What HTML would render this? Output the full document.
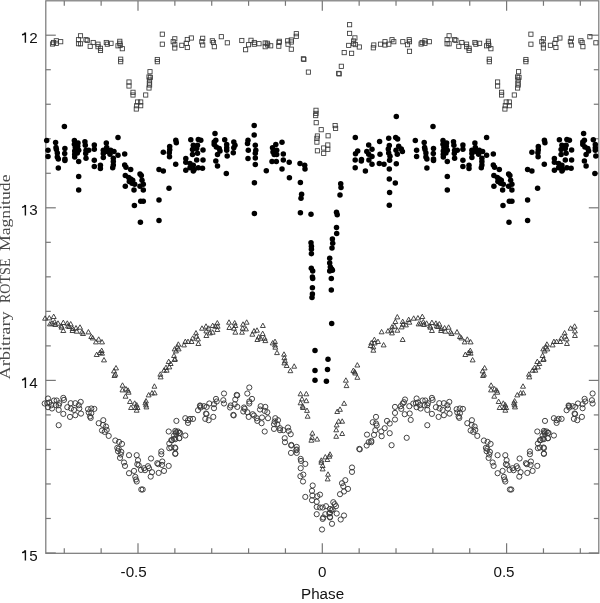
<!DOCTYPE html>
<html><head><meta charset="utf-8"><style>
html,body{margin:0;padding:0;background:#fff;}
svg{display:block;will-change:transform;}
.t{font-family:"Liberation Sans",sans-serif;font-size:15.2px;fill:#111;}
.yl{font-family:"Liberation Serif",serif;font-size:14.2px;fill:#4a4a4a;}
</style></head><body>
<svg width="600" height="603" viewBox="0 0 600 603">
<rect width="600" height="603" fill="#fff"/>
<rect x="45.8" y="0.8" width="553.00" height="552.50" fill="none" stroke="#777" stroke-width="1.2"/>
<line x1="64.28" y1="553.3" x2="64.28" y2="548.3" stroke="#777" stroke-width="1.2"/>
<line x1="64.28" y1="0.8" x2="64.28" y2="5.8" stroke="#777" stroke-width="1.2"/>
<line x1="101.14" y1="553.3" x2="101.14" y2="548.3" stroke="#777" stroke-width="1.2"/>
<line x1="101.14" y1="0.8" x2="101.14" y2="5.8" stroke="#777" stroke-width="1.2"/>
<line x1="138.00" y1="553.3" x2="138.00" y2="543.3" stroke="#777" stroke-width="1.2"/>
<line x1="138.00" y1="0.8" x2="138.00" y2="10.8" stroke="#777" stroke-width="1.2"/>
<line x1="174.86" y1="553.3" x2="174.86" y2="548.3" stroke="#777" stroke-width="1.2"/>
<line x1="174.86" y1="0.8" x2="174.86" y2="5.8" stroke="#777" stroke-width="1.2"/>
<line x1="211.72" y1="553.3" x2="211.72" y2="548.3" stroke="#777" stroke-width="1.2"/>
<line x1="211.72" y1="0.8" x2="211.72" y2="5.8" stroke="#777" stroke-width="1.2"/>
<line x1="248.58" y1="553.3" x2="248.58" y2="548.3" stroke="#777" stroke-width="1.2"/>
<line x1="248.58" y1="0.8" x2="248.58" y2="5.8" stroke="#777" stroke-width="1.2"/>
<line x1="285.44" y1="553.3" x2="285.44" y2="548.3" stroke="#777" stroke-width="1.2"/>
<line x1="285.44" y1="0.8" x2="285.44" y2="5.8" stroke="#777" stroke-width="1.2"/>
<line x1="322.30" y1="553.3" x2="322.30" y2="543.3" stroke="#777" stroke-width="1.2"/>
<line x1="322.30" y1="0.8" x2="322.30" y2="10.8" stroke="#777" stroke-width="1.2"/>
<line x1="359.16" y1="553.3" x2="359.16" y2="548.3" stroke="#777" stroke-width="1.2"/>
<line x1="359.16" y1="0.8" x2="359.16" y2="5.8" stroke="#777" stroke-width="1.2"/>
<line x1="396.02" y1="553.3" x2="396.02" y2="548.3" stroke="#777" stroke-width="1.2"/>
<line x1="396.02" y1="0.8" x2="396.02" y2="5.8" stroke="#777" stroke-width="1.2"/>
<line x1="432.88" y1="553.3" x2="432.88" y2="548.3" stroke="#777" stroke-width="1.2"/>
<line x1="432.88" y1="0.8" x2="432.88" y2="5.8" stroke="#777" stroke-width="1.2"/>
<line x1="469.74" y1="553.3" x2="469.74" y2="548.3" stroke="#777" stroke-width="1.2"/>
<line x1="469.74" y1="0.8" x2="469.74" y2="5.8" stroke="#777" stroke-width="1.2"/>
<line x1="506.60" y1="553.3" x2="506.60" y2="543.3" stroke="#777" stroke-width="1.2"/>
<line x1="506.60" y1="0.8" x2="506.60" y2="10.8" stroke="#777" stroke-width="1.2"/>
<line x1="543.46" y1="553.3" x2="543.46" y2="548.3" stroke="#777" stroke-width="1.2"/>
<line x1="543.46" y1="0.8" x2="543.46" y2="5.8" stroke="#777" stroke-width="1.2"/>
<line x1="580.32" y1="553.3" x2="580.32" y2="548.3" stroke="#777" stroke-width="1.2"/>
<line x1="580.32" y1="0.8" x2="580.32" y2="5.8" stroke="#777" stroke-width="1.2"/>
<line x1="45.8" y1="35.20" x2="55.8" y2="35.20" stroke="#777" stroke-width="1.2"/>
<line x1="598.8" y1="35.20" x2="588.8" y2="35.20" stroke="#777" stroke-width="1.2"/>
<line x1="45.8" y1="69.72" x2="50.8" y2="69.72" stroke="#777" stroke-width="1.2"/>
<line x1="598.8" y1="69.72" x2="593.8" y2="69.72" stroke="#777" stroke-width="1.2"/>
<line x1="45.8" y1="104.24" x2="50.8" y2="104.24" stroke="#777" stroke-width="1.2"/>
<line x1="598.8" y1="104.24" x2="593.8" y2="104.24" stroke="#777" stroke-width="1.2"/>
<line x1="45.8" y1="138.76" x2="50.8" y2="138.76" stroke="#777" stroke-width="1.2"/>
<line x1="598.8" y1="138.76" x2="593.8" y2="138.76" stroke="#777" stroke-width="1.2"/>
<line x1="45.8" y1="173.28" x2="50.8" y2="173.28" stroke="#777" stroke-width="1.2"/>
<line x1="598.8" y1="173.28" x2="593.8" y2="173.28" stroke="#777" stroke-width="1.2"/>
<line x1="45.8" y1="207.80" x2="55.8" y2="207.80" stroke="#777" stroke-width="1.2"/>
<line x1="598.8" y1="207.80" x2="588.8" y2="207.80" stroke="#777" stroke-width="1.2"/>
<line x1="45.8" y1="242.32" x2="50.8" y2="242.32" stroke="#777" stroke-width="1.2"/>
<line x1="598.8" y1="242.32" x2="593.8" y2="242.32" stroke="#777" stroke-width="1.2"/>
<line x1="45.8" y1="276.84" x2="50.8" y2="276.84" stroke="#777" stroke-width="1.2"/>
<line x1="598.8" y1="276.84" x2="593.8" y2="276.84" stroke="#777" stroke-width="1.2"/>
<line x1="45.8" y1="311.36" x2="50.8" y2="311.36" stroke="#777" stroke-width="1.2"/>
<line x1="598.8" y1="311.36" x2="593.8" y2="311.36" stroke="#777" stroke-width="1.2"/>
<line x1="45.8" y1="345.88" x2="50.8" y2="345.88" stroke="#777" stroke-width="1.2"/>
<line x1="598.8" y1="345.88" x2="593.8" y2="345.88" stroke="#777" stroke-width="1.2"/>
<line x1="45.8" y1="380.40" x2="55.8" y2="380.40" stroke="#777" stroke-width="1.2"/>
<line x1="598.8" y1="380.40" x2="588.8" y2="380.40" stroke="#777" stroke-width="1.2"/>
<line x1="45.8" y1="414.92" x2="50.8" y2="414.92" stroke="#777" stroke-width="1.2"/>
<line x1="598.8" y1="414.92" x2="593.8" y2="414.92" stroke="#777" stroke-width="1.2"/>
<line x1="45.8" y1="449.44" x2="50.8" y2="449.44" stroke="#777" stroke-width="1.2"/>
<line x1="598.8" y1="449.44" x2="593.8" y2="449.44" stroke="#777" stroke-width="1.2"/>
<line x1="45.8" y1="483.96" x2="50.8" y2="483.96" stroke="#777" stroke-width="1.2"/>
<line x1="598.8" y1="483.96" x2="593.8" y2="483.96" stroke="#777" stroke-width="1.2"/>
<line x1="45.8" y1="518.48" x2="50.8" y2="518.48" stroke="#777" stroke-width="1.2"/>
<line x1="598.8" y1="518.48" x2="593.8" y2="518.48" stroke="#777" stroke-width="1.2"/>
<line x1="45.8" y1="553.00" x2="55.8" y2="553.00" stroke="#777" stroke-width="1.2"/>
<line x1="598.8" y1="553.00" x2="588.8" y2="553.00" stroke="#777" stroke-width="1.2"/>
<g fill="none" stroke="#3a3a3a" stroke-width="0.85">
<rect x="51.4" y="40.4" width="4.2" height="4.2"/>
<rect x="420.0" y="40.4" width="4.2" height="4.2"/>
<rect x="54.2" y="38.7" width="4.2" height="4.2"/>
<rect x="422.8" y="38.7" width="4.2" height="4.2"/>
<rect x="54.2" y="41.2" width="4.2" height="4.2"/>
<rect x="422.8" y="41.2" width="4.2" height="4.2"/>
<rect x="58.6" y="39.6" width="4.2" height="4.2"/>
<rect x="427.2" y="39.6" width="4.2" height="4.2"/>
<rect x="50.4" y="41.9" width="4.2" height="4.2"/>
<rect x="419.0" y="41.9" width="4.2" height="4.2"/>
<rect x="78.4" y="33.7" width="4.2" height="4.2"/>
<rect x="447.0" y="33.7" width="4.2" height="4.2"/>
<rect x="76.4" y="37.6" width="4.2" height="4.2"/>
<rect x="445.0" y="37.6" width="4.2" height="4.2"/>
<rect x="76.4" y="41.6" width="4.2" height="4.2"/>
<rect x="445.0" y="41.6" width="4.2" height="4.2"/>
<rect x="78.4" y="41.7" width="4.2" height="4.2"/>
<rect x="447.0" y="41.7" width="4.2" height="4.2"/>
<rect x="83.9" y="37.6" width="4.2" height="4.2"/>
<rect x="452.5" y="37.6" width="4.2" height="4.2"/>
<rect x="85.2" y="38.2" width="4.2" height="4.2"/>
<rect x="453.8" y="38.2" width="4.2" height="4.2"/>
<rect x="88.1" y="44.2" width="4.2" height="4.2"/>
<rect x="456.7" y="44.2" width="4.2" height="4.2"/>
<rect x="91.1" y="40.4" width="4.2" height="4.2"/>
<rect x="459.7" y="40.4" width="4.2" height="4.2"/>
<rect x="95.9" y="42.1" width="4.2" height="4.2"/>
<rect x="464.5" y="42.1" width="4.2" height="4.2"/>
<rect x="95.9" y="44.6" width="4.2" height="4.2"/>
<rect x="464.5" y="44.6" width="4.2" height="4.2"/>
<rect x="98.4" y="46.2" width="4.2" height="4.2"/>
<rect x="467.0" y="46.2" width="4.2" height="4.2"/>
<rect x="98.4" y="48.4" width="4.2" height="4.2"/>
<rect x="467.0" y="48.4" width="4.2" height="4.2"/>
<rect x="104.2" y="40.4" width="4.2" height="4.2"/>
<rect x="472.8" y="40.4" width="4.2" height="4.2"/>
<rect x="105.2" y="42.1" width="4.2" height="4.2"/>
<rect x="473.8" y="42.1" width="4.2" height="4.2"/>
<rect x="108.9" y="41.2" width="4.2" height="4.2"/>
<rect x="477.5" y="41.2" width="4.2" height="4.2"/>
<rect x="117.7" y="39.2" width="4.2" height="4.2"/>
<rect x="486.3" y="39.2" width="4.2" height="4.2"/>
<rect x="117.7" y="41.2" width="4.2" height="4.2"/>
<rect x="486.3" y="41.2" width="4.2" height="4.2"/>
<rect x="115.9" y="43.7" width="4.2" height="4.2"/>
<rect x="484.5" y="43.7" width="4.2" height="4.2"/>
<rect x="118.1" y="43.2" width="4.2" height="4.2"/>
<rect x="486.7" y="43.2" width="4.2" height="4.2"/>
<rect x="120.2" y="46.6" width="4.2" height="4.2"/>
<rect x="488.8" y="46.6" width="4.2" height="4.2"/>
<rect x="118.6" y="57.1" width="4.2" height="4.2"/>
<rect x="487.2" y="57.1" width="4.2" height="4.2"/>
<rect x="118.6" y="59.6" width="4.2" height="4.2"/>
<rect x="487.2" y="59.6" width="4.2" height="4.2"/>
<rect x="147.9" y="69.6" width="4.2" height="4.2"/>
<rect x="516.5" y="69.6" width="4.2" height="4.2"/>
<rect x="146.9" y="74.9" width="4.2" height="4.2"/>
<rect x="515.5" y="74.9" width="4.2" height="4.2"/>
<rect x="148.3" y="75.3" width="4.2" height="4.2"/>
<rect x="516.9" y="75.3" width="4.2" height="4.2"/>
<rect x="147.5" y="77.9" width="4.2" height="4.2"/>
<rect x="516.1" y="77.9" width="4.2" height="4.2"/>
<rect x="147.2" y="80.9" width="4.2" height="4.2"/>
<rect x="515.8" y="80.9" width="4.2" height="4.2"/>
<rect x="147.5" y="82.9" width="4.2" height="4.2"/>
<rect x="516.1" y="82.9" width="4.2" height="4.2"/>
<rect x="146.9" y="85.9" width="4.2" height="4.2"/>
<rect x="515.5" y="85.9" width="4.2" height="4.2"/>
<rect x="126.9" y="79.9" width="4.2" height="4.2"/>
<rect x="495.5" y="79.9" width="4.2" height="4.2"/>
<rect x="126.9" y="83.9" width="4.2" height="4.2"/>
<rect x="495.5" y="83.9" width="4.2" height="4.2"/>
<rect x="130.9" y="90.2" width="4.2" height="4.2"/>
<rect x="499.5" y="90.2" width="4.2" height="4.2"/>
<rect x="130.9" y="92.9" width="4.2" height="4.2"/>
<rect x="499.5" y="92.9" width="4.2" height="4.2"/>
<rect x="143.6" y="92.9" width="4.2" height="4.2"/>
<rect x="512.2" y="92.9" width="4.2" height="4.2"/>
<rect x="135.5" y="99.9" width="4.2" height="4.2"/>
<rect x="504.1" y="99.9" width="4.2" height="4.2"/>
<rect x="138.6" y="99.9" width="4.2" height="4.2"/>
<rect x="507.2" y="99.9" width="4.2" height="4.2"/>
<rect x="134.6" y="103.6" width="4.2" height="4.2"/>
<rect x="503.2" y="103.6" width="4.2" height="4.2"/>
<rect x="138.6" y="103.6" width="4.2" height="4.2"/>
<rect x="507.2" y="103.6" width="4.2" height="4.2"/>
<rect x="134.2" y="106.9" width="4.2" height="4.2"/>
<rect x="502.8" y="106.9" width="4.2" height="4.2"/>
<rect x="160.2" y="32.1" width="4.2" height="4.2"/>
<rect x="528.8" y="32.1" width="4.2" height="4.2"/>
<rect x="160.2" y="42.1" width="4.2" height="4.2"/>
<rect x="528.8" y="42.1" width="4.2" height="4.2"/>
<rect x="155.2" y="57.4" width="4.2" height="4.2"/>
<rect x="523.8" y="57.4" width="4.2" height="4.2"/>
<rect x="155.2" y="59.6" width="4.2" height="4.2"/>
<rect x="523.8" y="59.6" width="4.2" height="4.2"/>
<rect x="171.1" y="39.6" width="4.2" height="4.2"/>
<rect x="539.7" y="39.6" width="4.2" height="4.2"/>
<rect x="172.7" y="36.7" width="4.2" height="4.2"/>
<rect x="541.3" y="36.7" width="4.2" height="4.2"/>
<rect x="172.7" y="42.6" width="4.2" height="4.2"/>
<rect x="541.3" y="42.6" width="4.2" height="4.2"/>
<rect x="172.7" y="45.9" width="4.2" height="4.2"/>
<rect x="541.3" y="45.9" width="4.2" height="4.2"/>
<rect x="179.7" y="43.2" width="4.2" height="4.2"/>
<rect x="548.3" y="43.2" width="4.2" height="4.2"/>
<rect x="185.2" y="37.4" width="4.2" height="4.2"/>
<rect x="553.8" y="37.4" width="4.2" height="4.2"/>
<rect x="184.2" y="41.2" width="4.2" height="4.2"/>
<rect x="552.8" y="41.2" width="4.2" height="4.2"/>
<rect x="185.2" y="45.4" width="4.2" height="4.2"/>
<rect x="553.8" y="45.4" width="4.2" height="4.2"/>
<rect x="189.2" y="35.9" width="4.2" height="4.2"/>
<rect x="557.8" y="35.9" width="4.2" height="4.2"/>
<rect x="200.6" y="36.2" width="4.2" height="4.2"/>
<rect x="569.2" y="36.2" width="4.2" height="4.2"/>
<rect x="199.7" y="39.6" width="4.2" height="4.2"/>
<rect x="568.3" y="39.6" width="4.2" height="4.2"/>
<rect x="200.6" y="42.9" width="4.2" height="4.2"/>
<rect x="569.2" y="42.9" width="4.2" height="4.2"/>
<rect x="210.2" y="38.7" width="4.2" height="4.2"/>
<rect x="578.8" y="38.7" width="4.2" height="4.2"/>
<rect x="211.4" y="40.4" width="4.2" height="4.2"/>
<rect x="580.0" y="40.4" width="4.2" height="4.2"/>
<rect x="212.2" y="44.6" width="4.2" height="4.2"/>
<rect x="580.8" y="44.6" width="4.2" height="4.2"/>
<rect x="219.2" y="34.6" width="4.2" height="4.2"/>
<rect x="587.8" y="34.6" width="4.2" height="4.2"/>
<rect x="225.2" y="40.7" width="4.2" height="4.2"/>
<rect x="593.8" y="40.7" width="4.2" height="4.2"/>
<rect x="239.7" y="38.4" width="4.2" height="4.2"/>
<rect x="243.5" y="47.6" width="4.2" height="4.2"/>
<rect x="246.4" y="42.6" width="4.2" height="4.2"/>
<rect x="248.9" y="38.2" width="4.2" height="4.2"/>
<rect x="252.2" y="40.4" width="4.2" height="4.2"/>
<rect x="252.2" y="42.1" width="4.2" height="4.2"/>
<rect x="256.9" y="41.6" width="4.2" height="4.2"/>
<rect x="263.1" y="40.9" width="4.2" height="4.2"/>
<rect x="263.1" y="44.6" width="4.2" height="4.2"/>
<rect x="265.2" y="41.2" width="4.2" height="4.2"/>
<rect x="265.6" y="42.9" width="4.2" height="4.2"/>
<rect x="268.6" y="43.7" width="4.2" height="4.2"/>
<rect x="277.2" y="39.2" width="4.2" height="4.2"/>
<rect x="276.9" y="40.4" width="4.2" height="4.2"/>
<rect x="276.7" y="44.1" width="4.2" height="4.2"/>
<rect x="285.6" y="38.7" width="4.2" height="4.2"/>
<rect x="285.9" y="42.1" width="4.2" height="4.2"/>
<rect x="289.2" y="37.9" width="4.2" height="4.2"/>
<rect x="289.2" y="39.9" width="4.2" height="4.2"/>
<rect x="289.2" y="47.1" width="4.2" height="4.2"/>
<rect x="294.2" y="31.6" width="4.2" height="4.2"/>
<rect x="294.2" y="34.2" width="4.2" height="4.2"/>
<rect x="301.3" y="56.7" width="4.2" height="4.2"/>
<rect x="306.3" y="70.0" width="4.2" height="4.2"/>
<rect x="336.6" y="71.3" width="4.2" height="4.2"/>
<rect x="339.2" y="64.2" width="4.2" height="4.2"/>
<rect x="342.1" y="50.5" width="4.2" height="4.2"/>
<rect x="349.5" y="51.2" width="4.2" height="4.2"/>
<rect x="347.5" y="22.6" width="4.2" height="4.2"/>
<rect x="347.5" y="31.3" width="4.2" height="4.2"/>
<rect x="352.8" y="35.8" width="4.2" height="4.2"/>
<rect x="351.5" y="38.9" width="4.2" height="4.2"/>
<rect x="351.5" y="41.6" width="4.2" height="4.2"/>
<rect x="353.2" y="42.5" width="4.2" height="4.2"/>
<rect x="346.6" y="43.3" width="4.2" height="4.2"/>
<rect x="357.2" y="44.9" width="4.2" height="4.2"/>
<rect x="313.9" y="108.2" width="4.2" height="4.2"/>
<rect x="313.9" y="111.3" width="4.2" height="4.2"/>
<rect x="313.6" y="113.5" width="4.2" height="4.2"/>
<rect x="314.1" y="120.6" width="4.2" height="4.2"/>
<rect x="319.1" y="127.6" width="4.2" height="4.2"/>
<rect x="333.0" y="123.5" width="4.2" height="4.2"/>
<rect x="333.5" y="126.3" width="4.2" height="4.2"/>
<rect x="326.0" y="133.7" width="4.2" height="4.2"/>
<rect x="315.3" y="133.9" width="4.2" height="4.2"/>
<rect x="314.8" y="136.2" width="4.2" height="4.2"/>
<rect x="314.8" y="140.0" width="4.2" height="4.2"/>
<rect x="325.7" y="142.9" width="4.2" height="4.2"/>
<rect x="321.6" y="145.9" width="4.2" height="4.2"/>
<rect x="325.7" y="147.2" width="4.2" height="4.2"/>
<rect x="315.3" y="148.7" width="4.2" height="4.2"/>
<rect x="321.6" y="151.3" width="4.2" height="4.2"/>
<rect x="371.7" y="42.9" width="4.2" height="4.2"/>
<rect x="371.2" y="45.7" width="4.2" height="4.2"/>
<rect x="378.4" y="42.1" width="4.2" height="4.2"/>
<rect x="382.9" y="39.6" width="4.2" height="4.2"/>
<rect x="382.9" y="42.9" width="4.2" height="4.2"/>
<rect x="386.7" y="42.1" width="4.2" height="4.2"/>
<rect x="389.9" y="37.6" width="4.2" height="4.2"/>
<rect x="391.7" y="39.6" width="4.2" height="4.2"/>
<rect x="400.7" y="39.6" width="4.2" height="4.2"/>
<rect x="407.1" y="37.6" width="4.2" height="4.2"/>
<rect x="407.4" y="39.6" width="4.2" height="4.2"/>
<rect x="405.4" y="42.6" width="4.2" height="4.2"/>
<rect x="407.4" y="49.2" width="4.2" height="4.2"/>
<rect x="301.8" y="57.3" width="4.2" height="4.2"/>
<rect x="337.1" y="71.8" width="4.2" height="4.2"/>
</g>
<g fill="#000">
<circle cx="64.4" cy="126.6" r="2.75"/>
<circle cx="433.0" cy="126.6" r="2.75"/>
<circle cx="46.7" cy="140.6" r="2.75"/>
<circle cx="415.3" cy="140.6" r="2.75"/>
<circle cx="48.0" cy="150.2" r="2.75"/>
<circle cx="416.6" cy="150.2" r="2.75"/>
<circle cx="48.0" cy="156.6" r="2.75"/>
<circle cx="416.6" cy="156.6" r="2.75"/>
<circle cx="55.6" cy="142.5" r="2.75"/>
<circle cx="424.2" cy="142.5" r="2.75"/>
<circle cx="56.0" cy="147.5" r="2.75"/>
<circle cx="424.6" cy="147.5" r="2.75"/>
<circle cx="56.4" cy="149.5" r="2.75"/>
<circle cx="425.0" cy="149.5" r="2.75"/>
<circle cx="57.3" cy="152.9" r="2.75"/>
<circle cx="425.9" cy="152.9" r="2.75"/>
<circle cx="57.3" cy="156.9" r="2.75"/>
<circle cx="425.9" cy="156.9" r="2.75"/>
<circle cx="58.3" cy="158.9" r="2.75"/>
<circle cx="426.9" cy="158.9" r="2.75"/>
<circle cx="58.3" cy="167.9" r="2.75"/>
<circle cx="426.9" cy="167.9" r="2.75"/>
<circle cx="64.9" cy="148.6" r="2.75"/>
<circle cx="433.5" cy="148.6" r="2.75"/>
<circle cx="64.7" cy="153.5" r="2.75"/>
<circle cx="433.3" cy="153.5" r="2.75"/>
<circle cx="64.9" cy="158.9" r="2.75"/>
<circle cx="433.5" cy="158.9" r="2.75"/>
<circle cx="64.9" cy="160.6" r="2.75"/>
<circle cx="433.5" cy="160.6" r="2.75"/>
<circle cx="74.4" cy="140.6" r="2.75"/>
<circle cx="443.0" cy="140.6" r="2.75"/>
<circle cx="74.4" cy="144.2" r="2.75"/>
<circle cx="443.0" cy="144.2" r="2.75"/>
<circle cx="75.3" cy="147.5" r="2.75"/>
<circle cx="443.9" cy="147.5" r="2.75"/>
<circle cx="74.7" cy="150.9" r="2.75"/>
<circle cx="443.3" cy="150.9" r="2.75"/>
<circle cx="74.7" cy="154.2" r="2.75"/>
<circle cx="443.3" cy="154.2" r="2.75"/>
<circle cx="74.7" cy="156.9" r="2.75"/>
<circle cx="443.3" cy="156.9" r="2.75"/>
<circle cx="78.0" cy="142.9" r="2.75"/>
<circle cx="446.6" cy="142.9" r="2.75"/>
<circle cx="77.7" cy="146.2" r="2.75"/>
<circle cx="446.3" cy="146.2" r="2.75"/>
<circle cx="78.7" cy="150.2" r="2.75"/>
<circle cx="447.3" cy="150.2" r="2.75"/>
<circle cx="77.3" cy="152.9" r="2.75"/>
<circle cx="445.9" cy="152.9" r="2.75"/>
<circle cx="78.7" cy="161.5" r="2.75"/>
<circle cx="447.3" cy="161.5" r="2.75"/>
<circle cx="78.7" cy="176.5" r="2.75"/>
<circle cx="447.3" cy="176.5" r="2.75"/>
<circle cx="78.7" cy="189.9" r="2.75"/>
<circle cx="447.3" cy="189.9" r="2.75"/>
<circle cx="84.9" cy="141.8" r="2.75"/>
<circle cx="453.5" cy="141.8" r="2.75"/>
<circle cx="85.3" cy="145.2" r="2.75"/>
<circle cx="453.9" cy="145.2" r="2.75"/>
<circle cx="86.0" cy="150.2" r="2.75"/>
<circle cx="454.6" cy="150.2" r="2.75"/>
<circle cx="88.7" cy="150.2" r="2.75"/>
<circle cx="457.3" cy="150.2" r="2.75"/>
<circle cx="85.7" cy="153.5" r="2.75"/>
<circle cx="454.3" cy="153.5" r="2.75"/>
<circle cx="86.0" cy="158.2" r="2.75"/>
<circle cx="454.6" cy="158.2" r="2.75"/>
<circle cx="94.3" cy="144.9" r="2.75"/>
<circle cx="462.9" cy="144.9" r="2.75"/>
<circle cx="94.3" cy="149.2" r="2.75"/>
<circle cx="462.9" cy="149.2" r="2.75"/>
<circle cx="94.3" cy="160.2" r="2.75"/>
<circle cx="462.9" cy="160.2" r="2.75"/>
<circle cx="94.3" cy="166.5" r="2.75"/>
<circle cx="462.9" cy="166.5" r="2.75"/>
<circle cx="100.4" cy="165.2" r="2.75"/>
<circle cx="469.0" cy="165.2" r="2.75"/>
<circle cx="100.4" cy="168.5" r="2.75"/>
<circle cx="469.0" cy="168.5" r="2.75"/>
<circle cx="106.3" cy="142.9" r="2.75"/>
<circle cx="474.9" cy="142.9" r="2.75"/>
<circle cx="103.3" cy="150.2" r="2.75"/>
<circle cx="471.9" cy="150.2" r="2.75"/>
<circle cx="103.3" cy="153.5" r="2.75"/>
<circle cx="471.9" cy="153.5" r="2.75"/>
<circle cx="103.3" cy="157.5" r="2.75"/>
<circle cx="471.9" cy="157.5" r="2.75"/>
<circle cx="106.7" cy="147.5" r="2.75"/>
<circle cx="475.3" cy="147.5" r="2.75"/>
<circle cx="107.3" cy="151.5" r="2.75"/>
<circle cx="475.9" cy="151.5" r="2.75"/>
<circle cx="110.7" cy="150.2" r="2.75"/>
<circle cx="479.3" cy="150.2" r="2.75"/>
<circle cx="110.0" cy="154.2" r="2.75"/>
<circle cx="478.6" cy="154.2" r="2.75"/>
<circle cx="114.0" cy="151.5" r="2.75"/>
<circle cx="482.6" cy="151.5" r="2.75"/>
<circle cx="113.3" cy="158.2" r="2.75"/>
<circle cx="481.9" cy="158.2" r="2.75"/>
<circle cx="113.3" cy="161.5" r="2.75"/>
<circle cx="481.9" cy="161.5" r="2.75"/>
<circle cx="113.3" cy="164.9" r="2.75"/>
<circle cx="481.9" cy="164.9" r="2.75"/>
<circle cx="112.7" cy="167.8" r="2.75"/>
<circle cx="481.3" cy="167.8" r="2.75"/>
<circle cx="118.0" cy="137.5" r="2.75"/>
<circle cx="486.6" cy="137.5" r="2.75"/>
<circle cx="118.0" cy="155.2" r="2.75"/>
<circle cx="486.6" cy="155.2" r="2.75"/>
<circle cx="124.7" cy="153.9" r="2.75"/>
<circle cx="493.3" cy="153.9" r="2.75"/>
<circle cx="124.7" cy="164.9" r="2.75"/>
<circle cx="493.3" cy="164.9" r="2.75"/>
<circle cx="125.3" cy="175.5" r="2.75"/>
<circle cx="493.9" cy="175.5" r="2.75"/>
<circle cx="125.3" cy="186.2" r="2.75"/>
<circle cx="493.9" cy="186.2" r="2.75"/>
<circle cx="126.0" cy="167.2" r="2.75"/>
<circle cx="494.6" cy="167.2" r="2.75"/>
<circle cx="130.7" cy="169.5" r="2.75"/>
<circle cx="499.3" cy="169.5" r="2.75"/>
<circle cx="128.7" cy="177.5" r="2.75"/>
<circle cx="497.3" cy="177.5" r="2.75"/>
<circle cx="130.7" cy="178.9" r="2.75"/>
<circle cx="499.3" cy="178.9" r="2.75"/>
<circle cx="129.3" cy="181.5" r="2.75"/>
<circle cx="497.9" cy="181.5" r="2.75"/>
<circle cx="132.7" cy="180.2" r="2.75"/>
<circle cx="501.3" cy="180.2" r="2.75"/>
<circle cx="132.0" cy="183.2" r="2.75"/>
<circle cx="500.6" cy="183.2" r="2.75"/>
<circle cx="134.7" cy="184.2" r="2.75"/>
<circle cx="503.3" cy="184.2" r="2.75"/>
<circle cx="134.0" cy="189.9" r="2.75"/>
<circle cx="502.6" cy="189.9" r="2.75"/>
<circle cx="140.0" cy="173.9" r="2.75"/>
<circle cx="508.6" cy="173.9" r="2.75"/>
<circle cx="141.3" cy="175.5" r="2.75"/>
<circle cx="509.9" cy="175.5" r="2.75"/>
<circle cx="142.0" cy="180.2" r="2.75"/>
<circle cx="510.6" cy="180.2" r="2.75"/>
<circle cx="143.3" cy="184.2" r="2.75"/>
<circle cx="511.9" cy="184.2" r="2.75"/>
<circle cx="140.0" cy="186.2" r="2.75"/>
<circle cx="508.6" cy="186.2" r="2.75"/>
<circle cx="143.3" cy="189.9" r="2.75"/>
<circle cx="511.9" cy="189.9" r="2.75"/>
<circle cx="140.7" cy="201.2" r="2.75"/>
<circle cx="509.3" cy="201.2" r="2.75"/>
<circle cx="143.3" cy="201.2" r="2.75"/>
<circle cx="511.9" cy="201.2" r="2.75"/>
<circle cx="134.4" cy="205.5" r="2.75"/>
<circle cx="503.0" cy="205.5" r="2.75"/>
<circle cx="140.4" cy="222.2" r="2.75"/>
<circle cx="509.0" cy="222.2" r="2.75"/>
<circle cx="159.0" cy="169.5" r="2.75"/>
<circle cx="527.6" cy="169.5" r="2.75"/>
<circle cx="163.3" cy="170.9" r="2.75"/>
<circle cx="531.9" cy="170.9" r="2.75"/>
<circle cx="169.0" cy="188.2" r="2.75"/>
<circle cx="537.6" cy="188.2" r="2.75"/>
<circle cx="159.0" cy="199.9" r="2.75"/>
<circle cx="527.6" cy="199.9" r="2.75"/>
<circle cx="159.0" cy="220.5" r="2.75"/>
<circle cx="527.6" cy="220.5" r="2.75"/>
<circle cx="163.3" cy="152.2" r="2.75"/>
<circle cx="531.9" cy="152.2" r="2.75"/>
<circle cx="169.3" cy="152.7" r="2.75"/>
<circle cx="537.9" cy="152.7" r="2.75"/>
<circle cx="169.5" cy="156.7" r="2.75"/>
<circle cx="538.1" cy="156.7" r="2.75"/>
<circle cx="175.7" cy="164.2" r="2.75"/>
<circle cx="544.3" cy="164.2" r="2.75"/>
<circle cx="169.7" cy="146.5" r="2.75"/>
<circle cx="538.3" cy="146.5" r="2.75"/>
<circle cx="169.7" cy="149.7" r="2.75"/>
<circle cx="538.3" cy="149.7" r="2.75"/>
<circle cx="175.8" cy="140.2" r="2.75"/>
<circle cx="544.4" cy="140.2" r="2.75"/>
<circle cx="176.3" cy="142.7" r="2.75"/>
<circle cx="544.9" cy="142.7" r="2.75"/>
<circle cx="190.8" cy="139.7" r="2.75"/>
<circle cx="559.4" cy="139.7" r="2.75"/>
<circle cx="198.3" cy="139.4" r="2.75"/>
<circle cx="566.9" cy="139.4" r="2.75"/>
<circle cx="200.8" cy="140.2" r="2.75"/>
<circle cx="569.4" cy="140.2" r="2.75"/>
<circle cx="193.3" cy="145.2" r="2.75"/>
<circle cx="561.9" cy="145.2" r="2.75"/>
<circle cx="197.5" cy="145.2" r="2.75"/>
<circle cx="566.1" cy="145.2" r="2.75"/>
<circle cx="192.5" cy="149.4" r="2.75"/>
<circle cx="561.1" cy="149.4" r="2.75"/>
<circle cx="196.7" cy="148.5" r="2.75"/>
<circle cx="565.3" cy="148.5" r="2.75"/>
<circle cx="203.0" cy="149.9" r="2.75"/>
<circle cx="571.6" cy="149.9" r="2.75"/>
<circle cx="192.5" cy="154.4" r="2.75"/>
<circle cx="561.1" cy="154.4" r="2.75"/>
<circle cx="197.5" cy="153.2" r="2.75"/>
<circle cx="566.1" cy="153.2" r="2.75"/>
<circle cx="185.8" cy="158.5" r="2.75"/>
<circle cx="554.4" cy="158.5" r="2.75"/>
<circle cx="196.7" cy="159.9" r="2.75"/>
<circle cx="565.3" cy="159.9" r="2.75"/>
<circle cx="203.0" cy="159.9" r="2.75"/>
<circle cx="571.6" cy="159.9" r="2.75"/>
<circle cx="185.8" cy="162.2" r="2.75"/>
<circle cx="554.4" cy="162.2" r="2.75"/>
<circle cx="190.0" cy="163.5" r="2.75"/>
<circle cx="558.6" cy="163.5" r="2.75"/>
<circle cx="193.3" cy="165.2" r="2.75"/>
<circle cx="561.9" cy="165.2" r="2.75"/>
<circle cx="185.8" cy="170.2" r="2.75"/>
<circle cx="554.4" cy="170.2" r="2.75"/>
<circle cx="190.0" cy="167.7" r="2.75"/>
<circle cx="558.6" cy="167.7" r="2.75"/>
<circle cx="194.2" cy="169.4" r="2.75"/>
<circle cx="562.8" cy="169.4" r="2.75"/>
<circle cx="198.3" cy="167.7" r="2.75"/>
<circle cx="566.9" cy="167.7" r="2.75"/>
<circle cx="202.5" cy="168.2" r="2.75"/>
<circle cx="571.1" cy="168.2" r="2.75"/>
<circle cx="193.3" cy="171.0" r="2.75"/>
<circle cx="561.9" cy="171.0" r="2.75"/>
<circle cx="215.0" cy="133.5" r="2.75"/>
<circle cx="583.6" cy="133.5" r="2.75"/>
<circle cx="215.8" cy="140.2" r="2.75"/>
<circle cx="584.4" cy="140.2" r="2.75"/>
<circle cx="214.2" cy="144.4" r="2.75"/>
<circle cx="582.8" cy="144.4" r="2.75"/>
<circle cx="216.3" cy="146.9" r="2.75"/>
<circle cx="584.9" cy="146.9" r="2.75"/>
<circle cx="217.5" cy="154.4" r="2.75"/>
<circle cx="586.1" cy="154.4" r="2.75"/>
<circle cx="215.8" cy="161.0" r="2.75"/>
<circle cx="584.4" cy="161.0" r="2.75"/>
<circle cx="217.5" cy="166.0" r="2.75"/>
<circle cx="586.1" cy="166.0" r="2.75"/>
<circle cx="214.2" cy="141.9" r="2.75"/>
<circle cx="582.8" cy="141.9" r="2.75"/>
<circle cx="219.2" cy="148.5" r="2.75"/>
<circle cx="587.8" cy="148.5" r="2.75"/>
<circle cx="220.0" cy="151.0" r="2.75"/>
<circle cx="588.6" cy="151.0" r="2.75"/>
<circle cx="224.7" cy="139.7" r="2.75"/>
<circle cx="593.3" cy="139.7" r="2.75"/>
<circle cx="226.7" cy="144.4" r="2.75"/>
<circle cx="595.3" cy="144.4" r="2.75"/>
<circle cx="226.7" cy="147.7" r="2.75"/>
<circle cx="595.3" cy="147.7" r="2.75"/>
<circle cx="226.7" cy="150.2" r="2.75"/>
<circle cx="595.3" cy="150.2" r="2.75"/>
<circle cx="227.2" cy="156.0" r="2.75"/>
<circle cx="595.8" cy="156.0" r="2.75"/>
<circle cx="226.3" cy="173.5" r="2.75"/>
<circle cx="594.9" cy="173.5" r="2.75"/>
<circle cx="233.8" cy="141.9" r="2.75"/>
<circle cx="235.0" cy="145.2" r="2.75"/>
<circle cx="233.8" cy="147.7" r="2.75"/>
<circle cx="233.3" cy="152.7" r="2.75"/>
<circle cx="248.0" cy="140.2" r="2.75"/>
<circle cx="247.5" cy="143.5" r="2.75"/>
<circle cx="248.3" cy="150.2" r="2.75"/>
<circle cx="248.0" cy="158.5" r="2.75"/>
<circle cx="254.2" cy="125.5" r="2.75"/>
<circle cx="254.2" cy="134.9" r="2.75"/>
<circle cx="255.3" cy="145.2" r="2.75"/>
<circle cx="255.8" cy="150.2" r="2.75"/>
<circle cx="255.3" cy="153.2" r="2.75"/>
<circle cx="255.3" cy="158.0" r="2.75"/>
<circle cx="255.3" cy="164.4" r="2.75"/>
<circle cx="266.3" cy="170.7" r="2.75"/>
<circle cx="275.8" cy="144.4" r="2.75"/>
<circle cx="272.5" cy="147.7" r="2.75"/>
<circle cx="273.0" cy="151.9" r="2.75"/>
<circle cx="274.2" cy="154.4" r="2.75"/>
<circle cx="276.7" cy="150.2" r="2.75"/>
<circle cx="276.7" cy="154.4" r="2.75"/>
<circle cx="272.0" cy="161.5" r="2.75"/>
<circle cx="276.3" cy="161.5" r="2.75"/>
<circle cx="282.0" cy="142.2" r="2.75"/>
<circle cx="283.3" cy="153.9" r="2.75"/>
<circle cx="283.3" cy="159.9" r="2.75"/>
<circle cx="289.2" cy="162.2" r="2.75"/>
<circle cx="282.0" cy="168.9" r="2.75"/>
<circle cx="300.0" cy="163.5" r="2.75"/>
<circle cx="304.7" cy="165.2" r="2.75"/>
<circle cx="305.0" cy="168.9" r="2.75"/>
<circle cx="289.4" cy="177.8" r="2.75"/>
<circle cx="254.4" cy="182.8" r="2.75"/>
<circle cx="300.4" cy="182.6" r="2.75"/>
<circle cx="301.6" cy="194.2" r="2.75"/>
<circle cx="301.0" cy="198.2" r="2.75"/>
<circle cx="254.4" cy="213.6" r="2.75"/>
<circle cx="300.4" cy="212.8" r="2.75"/>
<circle cx="311.0" cy="214.2" r="2.75"/>
<circle cx="311.0" cy="242.8" r="2.75"/>
<circle cx="311.4" cy="246.2" r="2.75"/>
<circle cx="311.4" cy="249.2" r="2.75"/>
<circle cx="311.4" cy="253.7" r="2.75"/>
<circle cx="311.3" cy="268.2" r="2.75"/>
<circle cx="312.7" cy="270.9" r="2.75"/>
<circle cx="312.4" cy="276.9" r="2.75"/>
<circle cx="312.7" cy="278.5" r="2.75"/>
<circle cx="312.4" cy="287.8" r="2.75"/>
<circle cx="312.4" cy="293.9" r="2.75"/>
<circle cx="312.0" cy="297.5" r="2.75"/>
<circle cx="336.7" cy="233.5" r="2.75"/>
<circle cx="332.4" cy="238.9" r="2.75"/>
<circle cx="332.7" cy="243.2" r="2.75"/>
<circle cx="332.0" cy="247.9" r="2.75"/>
<circle cx="329.7" cy="258.2" r="2.75"/>
<circle cx="329.7" cy="262.9" r="2.75"/>
<circle cx="330.3" cy="266.9" r="2.75"/>
<circle cx="331.6" cy="268.9" r="2.75"/>
<circle cx="329.7" cy="270.9" r="2.75"/>
<circle cx="332.4" cy="270.2" r="2.75"/>
<circle cx="331.3" cy="278.5" r="2.75"/>
<circle cx="331.3" cy="289.9" r="2.75"/>
<circle cx="340.7" cy="183.7" r="2.75"/>
<circle cx="341.0" cy="187.5" r="2.75"/>
<circle cx="340.0" cy="195.0" r="2.75"/>
<circle cx="336.5" cy="212.2" r="2.75"/>
<circle cx="337.2" cy="214.7" r="2.75"/>
<circle cx="336.5" cy="227.4" r="2.75"/>
<circle cx="355.5" cy="153.7" r="2.75"/>
<circle cx="355.2" cy="160.1" r="2.75"/>
<circle cx="361.5" cy="159.4" r="2.75"/>
<circle cx="355.2" cy="167.8" r="2.75"/>
<circle cx="365.4" cy="171.0" r="2.75"/>
<circle cx="366.8" cy="151.6" r="2.75"/>
<circle cx="368.9" cy="160.1" r="2.75"/>
<circle cx="396.3" cy="116.5" r="2.75"/>
<circle cx="355.3" cy="137.5" r="2.75"/>
<circle cx="357.7" cy="150.9" r="2.75"/>
<circle cx="361.3" cy="160.9" r="2.75"/>
<circle cx="368.7" cy="144.9" r="2.75"/>
<circle cx="372.0" cy="149.2" r="2.75"/>
<circle cx="368.7" cy="154.2" r="2.75"/>
<circle cx="372.0" cy="156.6" r="2.75"/>
<circle cx="372.0" cy="164.2" r="2.75"/>
<circle cx="379.6" cy="141.5" r="2.75"/>
<circle cx="380.0" cy="154.2" r="2.75"/>
<circle cx="379.3" cy="163.5" r="2.75"/>
<circle cx="384.0" cy="164.2" r="2.75"/>
<circle cx="388.7" cy="138.2" r="2.75"/>
<circle cx="389.3" cy="145.5" r="2.75"/>
<circle cx="388.3" cy="148.9" r="2.75"/>
<circle cx="388.7" cy="152.9" r="2.75"/>
<circle cx="390.0" cy="156.2" r="2.75"/>
<circle cx="389.6" cy="160.2" r="2.75"/>
<circle cx="389.3" cy="168.9" r="2.75"/>
<circle cx="389.3" cy="178.9" r="2.75"/>
<circle cx="395.3" cy="182.9" r="2.75"/>
<circle cx="395.7" cy="137.5" r="2.75"/>
<circle cx="397.6" cy="138.9" r="2.75"/>
<circle cx="398.7" cy="146.2" r="2.75"/>
<circle cx="396.0" cy="150.2" r="2.75"/>
<circle cx="401.3" cy="148.9" r="2.75"/>
<circle cx="402.4" cy="151.5" r="2.75"/>
<circle cx="397.3" cy="154.2" r="2.75"/>
<circle cx="396.3" cy="163.8" r="2.75"/>
<circle cx="389.6" cy="192.6" r="2.75"/>
<circle cx="389.3" cy="205.3" r="2.75"/>
<circle cx="315.0" cy="350.6" r="2.75"/>
<circle cx="328.0" cy="359.2" r="2.75"/>
<circle cx="315.0" cy="370.4" r="2.75"/>
<circle cx="327.5" cy="369.4" r="2.75"/>
<circle cx="315.0" cy="380.2" r="2.75"/>
<circle cx="326.4" cy="381.2" r="2.75"/>
<circle cx="331.7" cy="323.5" r="2.75"/>
</g>
<g fill="none" stroke="#333" stroke-width="0.9" stroke-linejoin="round">
<path d="M49.3 315.5L51.8 319.9H46.8Z"/>
<path d="M417.9 315.5L420.4 319.9H415.5Z"/>
<path d="M53.7 314.1L56.2 318.5H51.2Z"/>
<path d="M422.3 314.1L424.8 318.5H419.9Z"/>
<path d="M50.0 321.5L52.5 325.9H47.5Z"/>
<path d="M418.6 321.5L421.1 325.9H416.2Z"/>
<path d="M52.0 320.8L54.5 325.2H49.5Z"/>
<path d="M420.6 320.8L423.1 325.2H418.2Z"/>
<path d="M54.7 319.5L57.2 323.9H52.2Z"/>
<path d="M423.3 319.5L425.8 323.9H420.9Z"/>
<path d="M55.3 322.1L57.8 326.5H52.8Z"/>
<path d="M423.9 322.1L426.4 326.5H421.5Z"/>
<path d="M58.0 320.8L60.5 325.2H55.5Z"/>
<path d="M426.6 320.8L429.1 325.2H424.2Z"/>
<path d="M61.3 323.5L63.8 327.9H58.8Z"/>
<path d="M429.9 323.5L432.4 327.9H427.5Z"/>
<path d="M61.7 324.8L64.2 329.2H59.2Z"/>
<path d="M430.3 324.8L432.8 329.2H427.9Z"/>
<path d="M63.3 320.1L65.8 324.5H60.8Z"/>
<path d="M431.9 320.1L434.4 324.5H429.5Z"/>
<path d="M63.3 328.1L65.8 332.5H60.8Z"/>
<path d="M431.9 328.1L434.4 332.5H429.5Z"/>
<path d="M67.3 320.8L69.8 325.2H64.8Z"/>
<path d="M435.9 320.8L438.4 325.2H433.5Z"/>
<path d="M68.0 323.5L70.5 327.9H65.5Z"/>
<path d="M436.6 323.5L439.1 327.9H434.2Z"/>
<path d="M70.7 321.5L73.2 325.9H68.2Z"/>
<path d="M439.3 321.5L441.8 325.9H436.9Z"/>
<path d="M69.3 324.1L71.8 328.5H66.8Z"/>
<path d="M437.9 324.1L440.4 328.5H435.5Z"/>
<path d="M72.7 326.1L75.2 330.5H70.2Z"/>
<path d="M441.3 326.1L443.8 330.5H438.9Z"/>
<path d="M72.4 328.1L74.9 332.5H70.0Z"/>
<path d="M441.0 328.1L443.4 332.5H438.6Z"/>
<path d="M76.0 325.5L78.5 329.9H73.5Z"/>
<path d="M444.6 325.5L447.1 329.9H442.2Z"/>
<path d="M76.7 328.8L79.2 333.2H74.2Z"/>
<path d="M445.3 328.8L447.8 333.2H442.9Z"/>
<path d="M80.0 324.8L82.5 329.2H77.5Z"/>
<path d="M448.6 324.8L451.1 329.2H446.2Z"/>
<path d="M82.0 329.5L84.5 333.9H79.5Z"/>
<path d="M450.6 329.5L453.1 333.9H448.2Z"/>
<path d="M83.0 331.1L85.5 335.5H80.5Z"/>
<path d="M451.6 331.1L454.1 335.5H449.2Z"/>
<path d="M88.4 329.5L90.9 333.9H86.0Z"/>
<path d="M457.0 329.5L459.4 333.9H454.6Z"/>
<path d="M91.3 334.1L93.8 338.5H88.8Z"/>
<path d="M459.9 334.1L462.4 338.5H457.5Z"/>
<path d="M92.7 335.5L95.2 339.9H90.2Z"/>
<path d="M461.3 335.5L463.8 339.9H458.9Z"/>
<path d="M96.0 339.5L98.5 343.9H93.5Z"/>
<path d="M464.6 339.5L467.1 343.9H462.2Z"/>
<path d="M98.7 336.8L101.2 341.2H96.2Z"/>
<path d="M467.3 336.8L469.8 341.2H464.9Z"/>
<path d="M102.0 339.5L104.5 343.9H99.5Z"/>
<path d="M470.6 339.5L473.1 343.9H468.2Z"/>
<path d="M96.7 352.1L99.2 356.5H94.2Z"/>
<path d="M465.3 352.1L467.8 356.5H462.9Z"/>
<path d="M100.0 350.1L102.5 354.5H97.5Z"/>
<path d="M468.6 350.1L471.1 354.5H466.2Z"/>
<path d="M101.7 348.1L104.2 352.5H99.2Z"/>
<path d="M470.3 348.1L472.8 352.5H467.9Z"/>
<path d="M102.0 350.8L104.5 355.2H99.5Z"/>
<path d="M470.6 350.8L473.1 355.2H468.2Z"/>
<path d="M104.0 357.5L106.5 361.9H101.5Z"/>
<path d="M472.6 357.5L475.1 361.9H470.2Z"/>
<path d="M116.0 365.5L118.5 369.9H113.5Z"/>
<path d="M484.6 365.5L487.1 369.9H482.2Z"/>
<path d="M114.0 368.5L116.5 372.9H111.5Z"/>
<path d="M482.6 368.5L485.1 372.9H480.2Z"/>
<path d="M115.3 371.8L117.8 376.2H112.8Z"/>
<path d="M483.9 371.8L486.4 376.2H481.5Z"/>
<path d="M114.4 373.1L116.9 377.5H112.0Z"/>
<path d="M483.0 373.1L485.4 377.5H480.6Z"/>
<path d="M122.5 382.8L125.0 387.2H120.0Z"/>
<path d="M491.1 382.8L493.6 387.2H488.7Z"/>
<path d="M122.4 387.5L124.9 391.9H120.0Z"/>
<path d="M491.0 387.5L493.4 391.9H488.6Z"/>
<path d="M126.0 386.5L128.4 390.9H123.5Z"/>
<path d="M494.6 386.5L497.1 390.9H492.2Z"/>
<path d="M128.0 387.8L130.4 392.2H125.5Z"/>
<path d="M496.6 387.8L499.1 392.2H494.2Z"/>
<path d="M128.7 389.8L131.1 394.2H126.2Z"/>
<path d="M497.3 389.8L499.8 394.2H494.9Z"/>
<path d="M125.6 393.8L128.0 398.2H123.1Z"/>
<path d="M494.2 393.8L496.7 398.2H491.8Z"/>
<path d="M130.0 399.1L132.4 403.5H127.5Z"/>
<path d="M498.6 399.1L501.1 403.5H496.2Z"/>
<path d="M131.0 405.1L133.4 409.5H128.6Z"/>
<path d="M499.6 405.1L502.1 409.5H497.2Z"/>
<path d="M134.7 400.8L137.1 405.2H132.2Z"/>
<path d="M503.3 400.8L505.8 405.2H500.9Z"/>
<path d="M136.7 402.5L139.1 406.9H134.2Z"/>
<path d="M505.3 402.5L507.8 406.9H502.9Z"/>
<path d="M135.7 405.1L138.1 409.5H133.2Z"/>
<path d="M504.3 405.1L506.8 409.5H501.9Z"/>
<path d="M137.6 405.1L140.0 409.5H135.2Z"/>
<path d="M506.2 405.1L508.7 409.5H503.8Z"/>
<path d="M136.7 407.8L139.1 412.2H134.2Z"/>
<path d="M505.3 407.8L507.8 412.2H502.9Z"/>
<path d="M146.0 398.5L148.4 402.9H143.6Z"/>
<path d="M514.6 398.5L517.1 402.9H512.1Z"/>
<path d="M145.3 400.5L147.8 404.9H142.9Z"/>
<path d="M513.9 400.5L516.4 404.9H511.5Z"/>
<path d="M146.0 402.5L148.4 406.9H143.6Z"/>
<path d="M514.6 402.5L517.1 406.9H512.1Z"/>
<path d="M146.4 404.5L148.8 408.9H144.0Z"/>
<path d="M515.0 404.5L517.5 408.9H512.5Z"/>
<path d="M148.7 392.5L151.1 396.9H146.2Z"/>
<path d="M517.3 392.5L519.8 396.9H514.8Z"/>
<path d="M152.0 390.5L154.4 394.9H149.6Z"/>
<path d="M520.6 390.5L523.1 394.9H518.1Z"/>
<path d="M154.7 390.5L157.1 394.9H152.2Z"/>
<path d="M523.3 390.5L525.8 394.9H520.8Z"/>
<path d="M154.4 383.8L156.8 388.2H152.0Z"/>
<path d="M523.0 383.8L525.5 388.2H520.5Z"/>
<path d="M160.3 371.8L162.8 376.2H157.9Z"/>
<path d="M528.9 371.8L531.4 376.2H526.5Z"/>
<path d="M160.7 374.5L163.1 378.9H158.2Z"/>
<path d="M529.3 374.5L531.8 378.9H526.8Z"/>
<path d="M164.0 367.8L166.4 372.2H161.6Z"/>
<path d="M532.6 367.8L535.1 372.2H530.1Z"/>
<path d="M166.0 365.1L168.4 369.5H163.6Z"/>
<path d="M534.6 365.1L537.1 369.5H532.1Z"/>
<path d="M166.7 367.8L169.1 372.2H164.2Z"/>
<path d="M535.3 367.8L537.8 372.2H532.8Z"/>
<path d="M168.7 359.1L171.1 363.5H166.2Z"/>
<path d="M537.3 359.1L539.8 363.5H534.8Z"/>
<path d="M170.7 361.1L173.1 365.5H168.2Z"/>
<path d="M539.3 361.1L541.8 365.5H536.8Z"/>
<path d="M169.3 364.5L171.8 368.9H166.9Z"/>
<path d="M537.9 364.5L540.4 368.9H535.5Z"/>
<path d="M174.0 353.1L176.4 357.5H171.6Z"/>
<path d="M542.6 353.1L545.1 357.5H540.1Z"/>
<path d="M174.7 357.1L177.1 361.5H172.2Z"/>
<path d="M543.3 357.1L545.8 361.5H540.8Z"/>
<path d="M176.0 348.5L178.4 352.9H173.6Z"/>
<path d="M544.6 348.5L547.1 352.9H542.1Z"/>
<path d="M175.0 356.5L177.4 360.9H172.6Z"/>
<path d="M543.6 356.5L546.1 360.9H541.1Z"/>
<path d="M174.7 346.5L177.1 350.9H172.2Z"/>
<path d="M543.3 346.5L545.8 350.9H540.8Z"/>
<path d="M178.3 341.8L180.8 346.2H175.9Z"/>
<path d="M546.9 341.8L549.4 346.2H544.5Z"/>
<path d="M177.3 344.5L179.8 348.9H174.9Z"/>
<path d="M545.9 344.5L548.4 348.9H543.5Z"/>
<path d="M178.7 346.5L181.1 350.9H176.2Z"/>
<path d="M547.3 346.5L549.8 350.9H544.8Z"/>
<path d="M184.0 342.5L186.4 346.9H181.6Z"/>
<path d="M552.6 342.5L555.1 346.9H550.1Z"/>
<path d="M185.3 339.1L187.8 343.5H182.9Z"/>
<path d="M553.9 339.1L556.4 343.5H551.5Z"/>
<path d="M188.0 339.1L190.4 343.5H185.6Z"/>
<path d="M556.6 339.1L559.1 343.5H554.1Z"/>
<path d="M191.6 339.1L194.0 343.5H189.2Z"/>
<path d="M560.2 339.1L562.7 343.5H557.8Z"/>
<path d="M192.7 335.8L195.1 340.2H190.2Z"/>
<path d="M561.3 335.8L563.8 340.2H558.8Z"/>
<path d="M196.0 330.5L198.4 334.9H193.6Z"/>
<path d="M564.6 330.5L567.1 334.9H562.1Z"/>
<path d="M196.4 333.8L198.8 338.2H194.0Z"/>
<path d="M565.0 333.8L567.5 338.2H562.5Z"/>
<path d="M198.0 336.5L200.4 340.9H195.6Z"/>
<path d="M566.6 336.5L569.1 340.9H564.1Z"/>
<path d="M198.3 341.1L200.8 345.5H195.9Z"/>
<path d="M566.9 341.1L569.4 345.5H564.5Z"/>
<path d="M202.0 325.8L204.4 330.2H199.6Z"/>
<path d="M570.6 325.8L573.1 330.2H568.1Z"/>
<path d="M206.0 323.8L208.4 328.2H203.6Z"/>
<path d="M574.6 323.8L577.1 328.2H572.1Z"/>
<path d="M206.3 328.5L208.8 332.9H203.9Z"/>
<path d="M574.9 328.5L577.4 332.9H572.5Z"/>
<path d="M206.3 333.1L208.8 337.5H203.9Z"/>
<path d="M574.9 333.1L577.4 337.5H572.5Z"/>
<path d="M208.7 325.8L211.1 330.2H206.2Z"/>
<path d="M210.0 330.5L212.4 334.9H207.6Z"/>
<path d="M212.7 323.1L215.1 327.5H210.2Z"/>
<path d="M212.7 329.8L215.1 334.2H210.2Z"/>
<path d="M215.3 323.8L217.8 328.2H212.9Z"/>
<path d="M217.3 320.5L219.8 324.9H214.9Z"/>
<path d="M217.7 323.8L220.1 328.2H215.2Z"/>
<path d="M217.3 327.1L219.8 331.5H214.9Z"/>
<path d="M229.0 319.8L231.4 324.2H226.6Z"/>
<path d="M229.3 325.1L231.8 329.5H226.9Z"/>
<path d="M234.7 320.5L237.1 324.9H232.2Z"/>
<path d="M235.3 323.1L237.8 327.5H232.9Z"/>
<path d="M235.3 329.8L237.8 334.2H232.9Z"/>
<path d="M234.0 325.8L236.4 330.2H231.6Z"/>
<path d="M243.0 321.8L245.4 326.2H240.6Z"/>
<path d="M246.7 319.8L249.1 324.2H244.2Z"/>
<path d="M242.7 325.8L245.1 330.2H240.2Z"/>
<path d="M246.0 326.5L248.4 330.9H243.6Z"/>
<path d="M242.0 329.8L244.4 334.2H239.6Z"/>
<path d="M262.9 323.1L265.3 327.5H260.4Z"/>
<path d="M254.0 328.5L256.4 332.9H251.6Z"/>
<path d="M257.0 327.8L259.4 332.2H254.6Z"/>
<path d="M252.3 331.8L254.8 336.2H249.9Z"/>
<path d="M262.7 331.1L265.1 335.5H260.2Z"/>
<path d="M258.7 334.5L261.1 338.9H256.2Z"/>
<path d="M257.3 337.1L259.8 341.5H254.9Z"/>
<path d="M260.7 335.8L263.1 340.2H258.2Z"/>
<path d="M264.7 335.8L267.1 340.2H262.2Z"/>
<path d="M265.3 338.2L267.8 342.6H262.9Z"/>
<path d="M272.7 340.5L275.1 344.9H270.2Z"/>
<path d="M275.0 339.1L277.4 343.5H272.6Z"/>
<path d="M275.0 342.5L277.4 346.9H272.6Z"/>
<path d="M275.3 344.8L277.8 349.2H272.9Z"/>
<path d="M277.0 350.2L279.4 354.6H274.6Z"/>
<path d="M284.0 351.8L286.4 356.2H281.6Z"/>
<path d="M284.3 355.3L286.8 359.7H281.9Z"/>
<path d="M285.0 358.3L287.4 362.7H282.6Z"/>
<path d="M284.3 360.5L286.8 364.9H281.9Z"/>
<path d="M286.7 363.1L289.1 367.5H284.2Z"/>
<path d="M294.2 363.8L296.6 368.2H291.8Z"/>
<path d="M290.4 368.3L292.8 372.7H287.9Z"/>
<path d="M300.5 391.4L302.9 395.8H298.1Z"/>
<path d="M306.3 391.4L308.8 395.8H303.9Z"/>
<path d="M302.0 396.5L304.4 400.9H299.6Z"/>
<path d="M306.3 398.3L308.8 402.7H303.9Z"/>
<path d="M300.5 400.4L302.9 404.8H298.1Z"/>
<path d="M302.7 403.7L305.1 408.1H300.2Z"/>
<path d="M307.0 408.0L309.4 412.4H304.6Z"/>
<path d="M307.6 413.8L310.1 418.2H305.2Z"/>
<path d="M303.0 405.1L305.4 409.5H300.6Z"/>
<path d="M312.4 430.7L314.8 435.1H309.9Z"/>
<path d="M312.0 435.0L314.4 439.4H309.6Z"/>
<path d="M317.1 436.7L319.6 441.1H314.7Z"/>
<path d="M311.3 437.8L313.8 442.2H308.9Z"/>
<path d="M344.1 400.9L346.6 405.3H341.7Z"/>
<path d="M340.0 406.9L342.4 411.3H337.6Z"/>
<path d="M337.2 409.1L339.6 413.5H334.8Z"/>
<path d="M338.7 418.8L341.1 423.2H336.2Z"/>
<path d="M342.2 418.8L344.6 423.2H339.8Z"/>
<path d="M336.6 422.5L339.1 426.9H334.2Z"/>
<path d="M336.2 427.4L338.6 431.8H333.8Z"/>
<path d="M342.2 431.1L344.6 435.5H339.8Z"/>
<path d="M336.2 433.9L338.6 438.3H333.8Z"/>
<path d="M345.9 377.8L348.3 382.2H343.4Z"/>
<path d="M346.5 383.2L348.9 387.6H344.1Z"/>
<path d="M357.3 362.6L359.8 367.0H354.9Z"/>
<path d="M353.4 368.0L355.8 372.4H350.9Z"/>
<path d="M355.2 370.6L357.6 375.0H352.8Z"/>
<path d="M357.3 374.9L359.8 379.3H354.9Z"/>
<path d="M354.7 369.3L357.1 373.7H352.2Z"/>
<path d="M321.3 457.8L323.8 462.2H318.9Z"/>
<path d="M321.3 459.8L323.8 464.2H318.9Z"/>
<path d="M322.7 463.1L325.1 467.5H320.2Z"/>
<path d="M322.7 466.5L325.1 470.9H320.2Z"/>
<path d="M325.3 454.5L327.8 458.9H322.9Z"/>
<path d="M327.3 457.1L329.8 461.5H324.9Z"/>
<path d="M329.3 453.8L331.8 458.2H326.9Z"/>
<path d="M330.0 451.8L332.4 456.2H327.6Z"/>
<path d="M328.0 471.8L330.4 476.2H325.6Z"/>
<path d="M327.6 476.5L330.1 480.9H325.2Z"/>
<path d="M374.4 337.1L376.8 341.5H371.9Z"/>
<path d="M371.3 340.5L373.8 344.9H368.9Z"/>
<path d="M374.7 340.5L377.1 344.9H372.2Z"/>
<path d="M378.0 339.1L380.4 343.5H375.6Z"/>
<path d="M370.7 343.1L373.1 347.5H368.2Z"/>
<path d="M373.3 344.5L375.8 348.9H370.9Z"/>
<path d="M373.3 347.8L375.8 352.2H370.9Z"/>
<path d="M383.6 342.5L386.1 346.9H381.2Z"/>
<path d="M381.6 329.4L384.1 333.8H379.2Z"/>
<path d="M388.0 328.5L390.4 332.9H385.6Z"/>
<path d="M391.3 327.8L393.8 332.2H388.9Z"/>
<path d="M392.0 324.5L394.4 328.9H389.6Z"/>
<path d="M394.7 323.8L397.1 328.2H392.2Z"/>
<path d="M395.3 319.1L397.8 323.5H392.9Z"/>
<path d="M397.3 314.5L399.8 318.9H394.9Z"/>
<path d="M397.3 327.8L399.8 332.2H394.9Z"/>
<path d="M392.0 330.5L394.4 334.9H389.6Z"/>
<path d="M402.7 337.1L405.1 341.5H400.2Z"/>
<path d="M402.7 319.1L405.1 323.5H400.2Z"/>
<path d="M403.0 321.8L405.4 326.2H400.6Z"/>
<path d="M401.7 324.5L404.1 328.9H399.2Z"/>
<path d="M406.0 322.5L408.4 326.9H403.6Z"/>
<path d="M408.7 317.1L411.1 321.5H406.2Z"/>
<path d="M409.3 319.8L411.8 324.2H406.9Z"/>
<path d="M45.1 315.8L47.5 320.2H42.6Z"/>
<path d="M413.7 315.8L416.1 320.2H411.2Z"/>
</g>
<g fill="none" stroke="#3a3a3a" stroke-width="0.95">
<circle cx="48.0" cy="398.5" r="2.6"/>
<circle cx="416.6" cy="398.5" r="2.6"/>
<circle cx="47.3" cy="403.2" r="2.6"/>
<circle cx="415.9" cy="403.2" r="2.6"/>
<circle cx="49.3" cy="402.5" r="2.6"/>
<circle cx="417.9" cy="402.5" r="2.6"/>
<circle cx="48.0" cy="407.2" r="2.6"/>
<circle cx="416.6" cy="407.2" r="2.6"/>
<circle cx="51.3" cy="405.2" r="2.6"/>
<circle cx="419.9" cy="405.2" r="2.6"/>
<circle cx="52.0" cy="408.5" r="2.6"/>
<circle cx="420.6" cy="408.5" r="2.6"/>
<circle cx="54.0" cy="400.5" r="2.6"/>
<circle cx="422.6" cy="400.5" r="2.6"/>
<circle cx="56.7" cy="400.5" r="2.6"/>
<circle cx="425.3" cy="400.5" r="2.6"/>
<circle cx="56.0" cy="405.2" r="2.6"/>
<circle cx="424.6" cy="405.2" r="2.6"/>
<circle cx="58.7" cy="405.2" r="2.6"/>
<circle cx="427.3" cy="405.2" r="2.6"/>
<circle cx="59.3" cy="403.2" r="2.6"/>
<circle cx="427.9" cy="403.2" r="2.6"/>
<circle cx="58.7" cy="409.9" r="2.6"/>
<circle cx="427.3" cy="409.9" r="2.6"/>
<circle cx="63.3" cy="397.9" r="2.6"/>
<circle cx="431.9" cy="397.9" r="2.6"/>
<circle cx="64.0" cy="399.9" r="2.6"/>
<circle cx="432.6" cy="399.9" r="2.6"/>
<circle cx="63.3" cy="413.9" r="2.6"/>
<circle cx="431.9" cy="413.9" r="2.6"/>
<circle cx="58.7" cy="425.2" r="2.6"/>
<circle cx="427.3" cy="425.2" r="2.6"/>
<circle cx="67.3" cy="407.2" r="2.6"/>
<circle cx="435.9" cy="407.2" r="2.6"/>
<circle cx="70.7" cy="403.2" r="2.6"/>
<circle cx="439.3" cy="403.2" r="2.6"/>
<circle cx="71.0" cy="408.5" r="2.6"/>
<circle cx="439.6" cy="408.5" r="2.6"/>
<circle cx="74.0" cy="409.9" r="2.6"/>
<circle cx="442.6" cy="409.9" r="2.6"/>
<circle cx="75.3" cy="403.2" r="2.6"/>
<circle cx="443.9" cy="403.2" r="2.6"/>
<circle cx="75.3" cy="415.2" r="2.6"/>
<circle cx="443.9" cy="415.2" r="2.6"/>
<circle cx="70.0" cy="416.9" r="2.6"/>
<circle cx="438.6" cy="416.9" r="2.6"/>
<circle cx="78.7" cy="405.2" r="2.6"/>
<circle cx="447.3" cy="405.2" r="2.6"/>
<circle cx="80.7" cy="401.9" r="2.6"/>
<circle cx="449.3" cy="401.9" r="2.6"/>
<circle cx="79.3" cy="408.5" r="2.6"/>
<circle cx="447.9" cy="408.5" r="2.6"/>
<circle cx="81.0" cy="413.6" r="2.6"/>
<circle cx="449.6" cy="413.6" r="2.6"/>
<circle cx="88.0" cy="409.2" r="2.6"/>
<circle cx="456.6" cy="409.2" r="2.6"/>
<circle cx="91.3" cy="408.5" r="2.6"/>
<circle cx="459.9" cy="408.5" r="2.6"/>
<circle cx="94.3" cy="408.9" r="2.6"/>
<circle cx="462.9" cy="408.9" r="2.6"/>
<circle cx="88.7" cy="412.5" r="2.6"/>
<circle cx="457.3" cy="412.5" r="2.6"/>
<circle cx="91.3" cy="413.2" r="2.6"/>
<circle cx="459.9" cy="413.2" r="2.6"/>
<circle cx="90.0" cy="416.5" r="2.6"/>
<circle cx="458.6" cy="416.5" r="2.6"/>
<circle cx="90.7" cy="417.9" r="2.6"/>
<circle cx="459.3" cy="417.9" r="2.6"/>
<circle cx="98.7" cy="423.2" r="2.6"/>
<circle cx="467.3" cy="423.2" r="2.6"/>
<circle cx="103.3" cy="420.2" r="2.6"/>
<circle cx="471.9" cy="420.2" r="2.6"/>
<circle cx="103.0" cy="424.9" r="2.6"/>
<circle cx="471.6" cy="424.9" r="2.6"/>
<circle cx="106.0" cy="426.5" r="2.6"/>
<circle cx="474.6" cy="426.5" r="2.6"/>
<circle cx="102.0" cy="430.5" r="2.6"/>
<circle cx="470.6" cy="430.5" r="2.6"/>
<circle cx="104.7" cy="431.9" r="2.6"/>
<circle cx="473.3" cy="431.9" r="2.6"/>
<circle cx="106.7" cy="429.9" r="2.6"/>
<circle cx="475.3" cy="429.9" r="2.6"/>
<circle cx="108.7" cy="435.9" r="2.6"/>
<circle cx="477.3" cy="435.9" r="2.6"/>
<circle cx="115.3" cy="440.5" r="2.6"/>
<circle cx="483.9" cy="440.5" r="2.6"/>
<circle cx="119.0" cy="441.9" r="2.6"/>
<circle cx="487.6" cy="441.9" r="2.6"/>
<circle cx="122.0" cy="443.9" r="2.6"/>
<circle cx="490.6" cy="443.9" r="2.6"/>
<circle cx="117.3" cy="447.9" r="2.6"/>
<circle cx="485.9" cy="447.9" r="2.6"/>
<circle cx="118.0" cy="451.2" r="2.6"/>
<circle cx="486.6" cy="451.2" r="2.6"/>
<circle cx="121.3" cy="451.9" r="2.6"/>
<circle cx="489.9" cy="451.9" r="2.6"/>
<circle cx="120.7" cy="454.5" r="2.6"/>
<circle cx="489.3" cy="454.5" r="2.6"/>
<circle cx="120.0" cy="457.9" r="2.6"/>
<circle cx="488.6" cy="457.9" r="2.6"/>
<circle cx="124.0" cy="462.5" r="2.6"/>
<circle cx="492.6" cy="462.5" r="2.6"/>
<circle cx="118.7" cy="448.9" r="2.6"/>
<circle cx="487.3" cy="448.9" r="2.6"/>
<circle cx="125.0" cy="465.9" r="2.6"/>
<circle cx="493.6" cy="465.9" r="2.6"/>
<circle cx="129.0" cy="455.2" r="2.6"/>
<circle cx="497.6" cy="455.2" r="2.6"/>
<circle cx="136.7" cy="455.2" r="2.6"/>
<circle cx="505.3" cy="455.2" r="2.6"/>
<circle cx="138.0" cy="460.2" r="2.6"/>
<circle cx="506.6" cy="460.2" r="2.6"/>
<circle cx="137.3" cy="464.2" r="2.6"/>
<circle cx="505.9" cy="464.2" r="2.6"/>
<circle cx="138.7" cy="465.2" r="2.6"/>
<circle cx="507.3" cy="465.2" r="2.6"/>
<circle cx="134.0" cy="470.9" r="2.6"/>
<circle cx="502.6" cy="470.9" r="2.6"/>
<circle cx="129.0" cy="473.2" r="2.6"/>
<circle cx="497.6" cy="473.2" r="2.6"/>
<circle cx="135.3" cy="476.9" r="2.6"/>
<circle cx="503.9" cy="476.9" r="2.6"/>
<circle cx="136.0" cy="479.5" r="2.6"/>
<circle cx="504.6" cy="479.5" r="2.6"/>
<circle cx="136.7" cy="481.5" r="2.6"/>
<circle cx="505.3" cy="481.5" r="2.6"/>
<circle cx="141.0" cy="469.9" r="2.6"/>
<circle cx="509.6" cy="469.9" r="2.6"/>
<circle cx="144.0" cy="468.2" r="2.6"/>
<circle cx="512.6" cy="468.2" r="2.6"/>
<circle cx="145.0" cy="470.2" r="2.6"/>
<circle cx="513.6" cy="470.2" r="2.6"/>
<circle cx="148.0" cy="466.2" r="2.6"/>
<circle cx="516.6" cy="466.2" r="2.6"/>
<circle cx="149.0" cy="468.2" r="2.6"/>
<circle cx="517.6" cy="468.2" r="2.6"/>
<circle cx="151.0" cy="458.5" r="2.6"/>
<circle cx="519.6" cy="458.5" r="2.6"/>
<circle cx="152.0" cy="472.2" r="2.6"/>
<circle cx="520.6" cy="472.2" r="2.6"/>
<circle cx="150.7" cy="476.6" r="2.6"/>
<circle cx="519.3" cy="476.6" r="2.6"/>
<circle cx="141.3" cy="489.5" r="2.6"/>
<circle cx="509.9" cy="489.5" r="2.6"/>
<circle cx="142.7" cy="489.5" r="2.6"/>
<circle cx="511.3" cy="489.5" r="2.6"/>
<circle cx="157.3" cy="463.2" r="2.6"/>
<circle cx="525.9" cy="463.2" r="2.6"/>
<circle cx="158.3" cy="464.2" r="2.6"/>
<circle cx="526.9" cy="464.2" r="2.6"/>
<circle cx="162.3" cy="461.5" r="2.6"/>
<circle cx="530.9" cy="461.5" r="2.6"/>
<circle cx="162.0" cy="464.9" r="2.6"/>
<circle cx="530.6" cy="464.9" r="2.6"/>
<circle cx="161.3" cy="451.5" r="2.6"/>
<circle cx="529.9" cy="451.5" r="2.6"/>
<circle cx="161.3" cy="454.2" r="2.6"/>
<circle cx="529.9" cy="454.2" r="2.6"/>
<circle cx="158.7" cy="472.9" r="2.6"/>
<circle cx="527.3" cy="472.9" r="2.6"/>
<circle cx="164.0" cy="470.9" r="2.6"/>
<circle cx="532.6" cy="470.9" r="2.6"/>
<circle cx="168.7" cy="465.9" r="2.6"/>
<circle cx="537.3" cy="465.9" r="2.6"/>
<circle cx="169.3" cy="448.2" r="2.6"/>
<circle cx="537.9" cy="448.2" r="2.6"/>
<circle cx="175.3" cy="448.2" r="2.6"/>
<circle cx="543.9" cy="448.2" r="2.6"/>
<circle cx="175.3" cy="453.9" r="2.6"/>
<circle cx="543.9" cy="453.9" r="2.6"/>
<circle cx="169.3" cy="443.5" r="2.6"/>
<circle cx="537.9" cy="443.5" r="2.6"/>
<circle cx="172.0" cy="440.2" r="2.6"/>
<circle cx="540.6" cy="440.2" r="2.6"/>
<circle cx="175.3" cy="439.2" r="2.6"/>
<circle cx="543.9" cy="439.2" r="2.6"/>
<circle cx="179.3" cy="438.2" r="2.6"/>
<circle cx="547.9" cy="438.2" r="2.6"/>
<circle cx="174.0" cy="435.5" r="2.6"/>
<circle cx="542.6" cy="435.5" r="2.6"/>
<circle cx="176.0" cy="432.2" r="2.6"/>
<circle cx="544.6" cy="432.2" r="2.6"/>
<circle cx="179.3" cy="432.9" r="2.6"/>
<circle cx="547.9" cy="432.9" r="2.6"/>
<circle cx="185.3" cy="435.5" r="2.6"/>
<circle cx="553.9" cy="435.5" r="2.6"/>
<circle cx="168.7" cy="431.5" r="2.6"/>
<circle cx="537.3" cy="431.5" r="2.6"/>
<circle cx="175.3" cy="430.9" r="2.6"/>
<circle cx="543.9" cy="430.9" r="2.6"/>
<circle cx="178.0" cy="431.5" r="2.6"/>
<circle cx="546.6" cy="431.5" r="2.6"/>
<circle cx="180.0" cy="432.9" r="2.6"/>
<circle cx="548.6" cy="432.9" r="2.6"/>
<circle cx="176.0" cy="433.5" r="2.6"/>
<circle cx="544.6" cy="433.5" r="2.6"/>
<circle cx="174.0" cy="438.9" r="2.6"/>
<circle cx="542.6" cy="438.9" r="2.6"/>
<circle cx="179.3" cy="438.2" r="2.6"/>
<circle cx="547.9" cy="438.2" r="2.6"/>
<circle cx="171.3" cy="440.2" r="2.6"/>
<circle cx="539.9" cy="440.2" r="2.6"/>
<circle cx="175.0" cy="447.5" r="2.6"/>
<circle cx="543.6" cy="447.5" r="2.6"/>
<circle cx="171.3" cy="447.5" r="2.6"/>
<circle cx="539.9" cy="447.5" r="2.6"/>
<circle cx="175.3" cy="453.5" r="2.6"/>
<circle cx="543.9" cy="453.5" r="2.6"/>
<circle cx="176.4" cy="420.9" r="2.6"/>
<circle cx="545.0" cy="420.9" r="2.6"/>
<circle cx="185.3" cy="418.2" r="2.6"/>
<circle cx="553.9" cy="418.2" r="2.6"/>
<circle cx="188.0" cy="420.2" r="2.6"/>
<circle cx="556.6" cy="420.2" r="2.6"/>
<circle cx="190.0" cy="418.9" r="2.6"/>
<circle cx="558.6" cy="418.9" r="2.6"/>
<circle cx="188.0" cy="422.9" r="2.6"/>
<circle cx="556.6" cy="422.9" r="2.6"/>
<circle cx="193.0" cy="418.9" r="2.6"/>
<circle cx="561.6" cy="418.9" r="2.6"/>
<circle cx="198.0" cy="410.2" r="2.6"/>
<circle cx="566.6" cy="410.2" r="2.6"/>
<circle cx="200.0" cy="405.5" r="2.6"/>
<circle cx="568.6" cy="405.5" r="2.6"/>
<circle cx="200.7" cy="407.5" r="2.6"/>
<circle cx="569.3" cy="407.5" r="2.6"/>
<circle cx="204.0" cy="406.2" r="2.6"/>
<circle cx="572.6" cy="406.2" r="2.6"/>
<circle cx="206.7" cy="406.9" r="2.6"/>
<circle cx="575.3" cy="406.9" r="2.6"/>
<circle cx="209.3" cy="403.5" r="2.6"/>
<circle cx="577.9" cy="403.5" r="2.6"/>
<circle cx="206.0" cy="413.5" r="2.6"/>
<circle cx="574.6" cy="413.5" r="2.6"/>
<circle cx="205.3" cy="418.9" r="2.6"/>
<circle cx="573.9" cy="418.9" r="2.6"/>
<circle cx="208.7" cy="420.2" r="2.6"/>
<circle cx="577.3" cy="420.2" r="2.6"/>
<circle cx="213.3" cy="416.9" r="2.6"/>
<circle cx="581.9" cy="416.9" r="2.6"/>
<circle cx="214.0" cy="404.2" r="2.6"/>
<circle cx="582.6" cy="404.2" r="2.6"/>
<circle cx="214.0" cy="408.2" r="2.6"/>
<circle cx="582.6" cy="408.2" r="2.6"/>
<circle cx="216.0" cy="398.9" r="2.6"/>
<circle cx="584.6" cy="398.9" r="2.6"/>
<circle cx="216.7" cy="401.5" r="2.6"/>
<circle cx="585.3" cy="401.5" r="2.6"/>
<circle cx="224.0" cy="393.5" r="2.6"/>
<circle cx="592.6" cy="393.5" r="2.6"/>
<circle cx="223.3" cy="400.2" r="2.6"/>
<circle cx="591.9" cy="400.2" r="2.6"/>
<circle cx="224.0" cy="403.5" r="2.6"/>
<circle cx="592.6" cy="403.5" r="2.6"/>
<circle cx="230.7" cy="405.5" r="2.6"/>
<circle cx="230.0" cy="407.5" r="2.6"/>
<circle cx="234.7" cy="404.2" r="2.6"/>
<circle cx="235.3" cy="399.5" r="2.6"/>
<circle cx="236.7" cy="394.9" r="2.6"/>
<circle cx="237.3" cy="406.9" r="2.6"/>
<circle cx="233.3" cy="414.9" r="2.6"/>
<circle cx="244.0" cy="407.5" r="2.6"/>
<circle cx="243.3" cy="411.5" r="2.6"/>
<circle cx="247.3" cy="412.2" r="2.6"/>
<circle cx="248.7" cy="416.9" r="2.6"/>
<circle cx="247.3" cy="393.5" r="2.6"/>
<circle cx="249.3" cy="387.5" r="2.6"/>
<circle cx="252.0" cy="398.9" r="2.6"/>
<circle cx="249.3" cy="401.5" r="2.6"/>
<circle cx="249.3" cy="403.5" r="2.6"/>
<circle cx="244.7" cy="408.9" r="2.6"/>
<circle cx="252.7" cy="414.2" r="2.6"/>
<circle cx="254.0" cy="415.5" r="2.6"/>
<circle cx="256.7" cy="418.2" r="2.6"/>
<circle cx="257.3" cy="420.9" r="2.6"/>
<circle cx="260.7" cy="406.2" r="2.6"/>
<circle cx="260.0" cy="409.5" r="2.6"/>
<circle cx="265.3" cy="406.9" r="2.6"/>
<circle cx="264.7" cy="410.9" r="2.6"/>
<circle cx="267.3" cy="412.2" r="2.6"/>
<circle cx="262.0" cy="417.5" r="2.6"/>
<circle cx="268.0" cy="418.2" r="2.6"/>
<circle cx="261.6" cy="423.2" r="2.6"/>
<circle cx="264.7" cy="431.5" r="2.6"/>
<circle cx="275.3" cy="418.2" r="2.6"/>
<circle cx="274.7" cy="421.5" r="2.6"/>
<circle cx="278.0" cy="420.2" r="2.6"/>
<circle cx="274.0" cy="424.2" r="2.6"/>
<circle cx="277.3" cy="424.2" r="2.6"/>
<circle cx="274.0" cy="428.9" r="2.6"/>
<circle cx="280.0" cy="428.2" r="2.6"/>
<circle cx="280.0" cy="430.2" r="2.6"/>
<circle cx="283.3" cy="430.2" r="2.6"/>
<circle cx="288.0" cy="427.5" r="2.6"/>
<circle cx="288.7" cy="430.9" r="2.6"/>
<circle cx="290.7" cy="434.2" r="2.6"/>
<circle cx="284.7" cy="438.2" r="2.6"/>
<circle cx="285.0" cy="442.2" r="2.6"/>
<circle cx="291.3" cy="444.9" r="2.6"/>
<circle cx="296.7" cy="446.9" r="2.6"/>
<circle cx="296.3" cy="450.2" r="2.6"/>
<circle cx="291.0" cy="452.9" r="2.6"/>
<circle cx="296.7" cy="452.9" r="2.6"/>
<circle cx="300.7" cy="458.9" r="2.6"/>
<circle cx="291.3" cy="445.5" r="2.6"/>
<circle cx="296.7" cy="449.5" r="2.6"/>
<circle cx="301.0" cy="460.9" r="2.6"/>
<circle cx="305.3" cy="463.9" r="2.6"/>
<circle cx="300.7" cy="468.2" r="2.6"/>
<circle cx="303.3" cy="474.6" r="2.6"/>
<circle cx="300.4" cy="476.2" r="2.6"/>
<circle cx="303.0" cy="481.5" r="2.6"/>
<circle cx="312.7" cy="485.5" r="2.6"/>
<circle cx="312.0" cy="490.9" r="2.6"/>
<circle cx="305.3" cy="496.9" r="2.6"/>
<circle cx="312.4" cy="495.5" r="2.6"/>
<circle cx="320.0" cy="494.6" r="2.6"/>
<circle cx="317.3" cy="496.2" r="2.6"/>
<circle cx="312.0" cy="500.2" r="2.6"/>
<circle cx="316.7" cy="501.8" r="2.6"/>
<circle cx="316.7" cy="506.9" r="2.6"/>
<circle cx="320.0" cy="507.5" r="2.6"/>
<circle cx="322.7" cy="507.5" r="2.6"/>
<circle cx="326.0" cy="506.2" r="2.6"/>
<circle cx="316.7" cy="514.2" r="2.6"/>
<circle cx="323.3" cy="517.5" r="2.6"/>
<circle cx="325.3" cy="514.2" r="2.6"/>
<circle cx="330.0" cy="516.9" r="2.6"/>
<circle cx="330.0" cy="512.9" r="2.6"/>
<circle cx="332.7" cy="509.5" r="2.6"/>
<circle cx="333.3" cy="502.2" r="2.6"/>
<circle cx="334.7" cy="504.2" r="2.6"/>
<circle cx="336.0" cy="506.2" r="2.6"/>
<circle cx="336.7" cy="513.5" r="2.6"/>
<circle cx="344.0" cy="515.5" r="2.6"/>
<circle cx="340.0" cy="494.2" r="2.6"/>
<circle cx="344.0" cy="491.5" r="2.6"/>
<circle cx="348.0" cy="488.9" r="2.6"/>
<circle cx="343.3" cy="486.2" r="2.6"/>
<circle cx="342.0" cy="483.2" r="2.6"/>
<circle cx="345.3" cy="480.2" r="2.6"/>
<circle cx="352.0" cy="467.5" r="2.6"/>
<circle cx="352.0" cy="471.9" r="2.6"/>
<circle cx="359.3" cy="448.9" r="2.6"/>
<circle cx="366.7" cy="445.5" r="2.6"/>
<circle cx="368.7" cy="442.2" r="2.6"/>
<circle cx="330.0" cy="508.9" r="2.6"/>
<circle cx="331.3" cy="510.2" r="2.6"/>
<circle cx="329.3" cy="513.5" r="2.6"/>
<circle cx="330.0" cy="517.5" r="2.6"/>
<circle cx="322.7" cy="518.9" r="2.6"/>
<circle cx="340.7" cy="519.5" r="2.6"/>
<circle cx="332.0" cy="523.8" r="2.6"/>
<circle cx="322.0" cy="529.5" r="2.6"/>
<circle cx="371.3" cy="440.9" r="2.6"/>
<circle cx="371.3" cy="442.2" r="2.6"/>
<circle cx="367.0" cy="434.6" r="2.6"/>
<circle cx="374.0" cy="434.9" r="2.6"/>
<circle cx="375.3" cy="430.2" r="2.6"/>
<circle cx="372.7" cy="422.2" r="2.6"/>
<circle cx="376.0" cy="423.5" r="2.6"/>
<circle cx="376.7" cy="425.5" r="2.6"/>
<circle cx="376.0" cy="416.9" r="2.6"/>
<circle cx="381.3" cy="431.5" r="2.6"/>
<circle cx="381.7" cy="436.2" r="2.6"/>
<circle cx="384.7" cy="428.2" r="2.6"/>
<circle cx="387.0" cy="420.9" r="2.6"/>
<circle cx="389.7" cy="423.5" r="2.6"/>
<circle cx="389.7" cy="433.2" r="2.6"/>
<circle cx="391.6" cy="445.2" r="2.6"/>
<circle cx="395.0" cy="412.9" r="2.6"/>
<circle cx="395.0" cy="419.5" r="2.6"/>
<circle cx="395.0" cy="406.9" r="2.6"/>
<circle cx="400.7" cy="406.2" r="2.6"/>
<circle cx="401.3" cy="408.9" r="2.6"/>
<circle cx="402.7" cy="403.5" r="2.6"/>
<circle cx="405.0" cy="399.5" r="2.6"/>
<circle cx="404.0" cy="402.2" r="2.6"/>
<circle cx="404.7" cy="414.2" r="2.6"/>
<circle cx="409.3" cy="406.2" r="2.6"/>
<circle cx="409.7" cy="413.5" r="2.6"/>
<circle cx="410.7" cy="419.9" r="2.6"/>
<circle cx="406.7" cy="437.8" r="2.6"/>
<circle cx="44.7" cy="403.5" r="2.6"/>
<circle cx="413.3" cy="403.5" r="2.6"/>
<circle cx="359.8" cy="449.4" r="2.6"/>
<circle cx="237.2" cy="395.4" r="2.6"/>
<circle cx="206.5" cy="414.1" r="2.6"/>
<circle cx="575.1" cy="414.1" r="2.6"/>
<circle cx="233.7" cy="415.4" r="2.6"/>
<circle cx="200.3" cy="406.0" r="2.6"/>
<circle cx="568.9" cy="406.0" r="2.6"/>
</g>
<g class="t">
<text x="37.6" y="42.8" text-anchor="end">2</text>
<text x="37.6" y="215.4" text-anchor="end">3</text>
<text x="37.6" y="388.0" text-anchor="end">4</text>
<text x="37.6" y="560.6" text-anchor="end">5</text>
<text x="133.7" y="576.5" text-anchor="middle">-0.5</text>
<text x="322.2" y="576.5" text-anchor="middle">0</text>
<text x="504.0" y="576.5" text-anchor="middle">0.5</text>
<text x="322.6" y="599.2" text-anchor="middle">Phase</text>
</g>
<g fill="none" stroke="#111" stroke-width="1.4"><path d="M25.4 32.40V42.80M22 34.80Q24.6 34.60 25.4 32.40"/><path d="M25.4 205.00V215.40M22 207.40Q24.6 207.20 25.4 205.00"/><path d="M25.4 377.60V388.00M22 380.00Q24.6 379.80 25.4 377.60"/><path d="M25.4 550.20V560.60M22 552.60Q24.6 552.40 25.4 550.20"/></g>
<g class="yl" transform="rotate(-90)">
<text x="-379.6" y="10.2" textLength="68.4" lengthAdjust="spacingAndGlyphs">Arbitrary</text>
<text x="-303" y="10.2" textLength="44.5" lengthAdjust="spacingAndGlyphs">ROTSE</text>
<text x="-251" y="10.2" textLength="76.5" lengthAdjust="spacingAndGlyphs">Magnitude</text>
</g>
</svg>
</body></html>
